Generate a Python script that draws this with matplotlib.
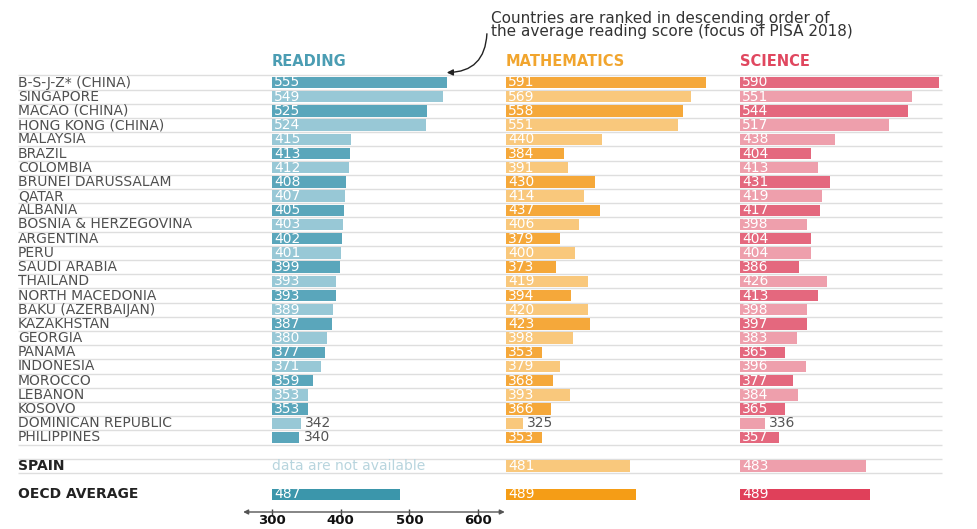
import matplotlib.pyplot as plt

# PISA 2018 scores
countries = ["B-S-J-Z* (CHINA)", "SINGAPORE", "MACAO (CHINA)", "HONG KONG (CHINA)",
             "MALAYSIA", "BRAZIL", "COLOMBIA", "BRUNEI DARUSSALAM", "QATAR", "ALBANIA",
             "BOSNIA & HERZEGOVINA", "ARGENTINA", "PERU", "SAUDI ARABIA", "THAILAND",
             "NORTH MACEDONIA", "BAKU (AZERBAIJAN)", "KAZAKHSTAN", "GEORGIA", "PANAMA",
             "INDONESIA", "MOROCCO", "LEBANON", "KOSOVO", "DOMINICAN REPUBLIC", "PHILIPPINES"]
reading = [555, 549, 525, 524, 415, 413, 412, 408, 407, 405, 403, 402, 401, 399, 393,
           393, 389, 387, 380, 377, 371, 359, 353, 353, 342, 340]
math = [591, 569, 558, 551, 440, 384, 391, 430, 414, 437, 406, 379, 400, 373, 419,
        394, 420, 423, 398, 353, 379, 368, 393, 366, 325, 353]
science = [590, 551, 544, 517, 438, 404, 413, 431, 419, 417, 398, 404, 404, 386, 426,
           413, 398, 397, 383, 365, 396, 377, 384, 365, 336, 357]
subjects = ["READING", "MATHEMATICS", "SCIENCE"]
spain = [None, 481, 483]
oecd = [487, 489, 489]
axis_ticks = [300, 400, 500, 600]

W, H = 978, 529
fig = plt.figure(figsize=(W / 100, H / 100), dpi=100)

# row layout (pixels from top)
row0 = 82.5
step = 14.2
ytop = -row0 / step
ybot = (H - row0) / step
spain_y = 27
oecd_y = 29

px_per_pt = 206 / 300.0
col_left = [272, 506, 740]
col_w = 228
dark = ["#5aa6bb", "#f5a83a", "#e4687e"]
light = ["#98c8d6", "#f9c87c", "#ee9fac"]
strong = ["#3b96ab", "#f59d16", "#e0405a"]
head_col = ["#4b9db3", "#f1a52e", "#e0475f"]

# background axes in pixel units for labels and separators
bg = fig.add_axes([0, 0, 1, 1])
bg.set_xlim(0, W)
bg.set_ylim(ybot, ytop)
bg.axis("off")

n = len(countries)
seps = [i - 0.5 for i in range(n + 1)] + [spain_y - 0.5, spain_y + 0.5]
bg.hlines(seps, 18, 942, color="#dedede", lw=1, zorder=0)
for i, c in enumerate(countries):
    bg.text(18, i, c, va="center", ha="left", fontsize=10, color="#505050")
bg.text(18, spain_y, "SPAIN", va="center", fontsize=10, color="#222222", fontweight="bold")
bg.text(18, oecd_y, "OECD AVERAGE", va="center", fontsize=10, color="#222222", fontweight="bold")

# annotation
fig.text(491 / W, 1 - 18 / H, "Countries are ranked in descending order of",
         fontsize=11, color="#333333", va="center")
fig.text(491 / W, 1 - 31.5 / H, "the average reading score (focus of PISA 2018)",
         fontsize=11, color="#333333", va="center")
bg.annotate("", xy=(444, -0.7), xytext=(487, (31 - row0) / step),
            arrowprops=dict(arrowstyle="-|>", color="#222222", lw=1,
                            connectionstyle="arc3,rad=-0.5", mutation_scale=9))

data = [reading, math, science]
for k in range(3):
    ax = fig.add_axes([col_left[k] / W, 0, col_w / W, 1])
    ax.set_xlim(300, 300 + col_w / px_per_pt)
    ax.set_ylim(ybot, ytop)
    ax.axis("off")
    ax.text(300, (62 - row0) / step, subjects[k], fontsize=10.5, fontweight="bold",
            color=head_col[k], va="center")
    vals = data[k]
    for i, v in enumerate(vals):
        is_dark = (i < 4 and i % 2 == 0) or (i >= 4 and i % 2 == 1)
        col = dark[k] if is_dark else light[k]
        ax.barh(i, v - 300, left=300, height=0.8, color=col)
        if v < 350:
            ax.text(v + 6, i, str(v), va="center", fontsize=10, color="#555555")
        else:
            ax.text(303, i, str(v), va="center", fontsize=10, color="white")
    if spain[k] is None:
        ax.text(300, spain_y, "data are not available", va="center", fontsize=10,
                color="#b8d5de")
    else:
        ax.barh(spain_y, spain[k] - 300, left=300, height=0.8, color=light[k])
        ax.text(303, spain_y, str(spain[k]), va="center", fontsize=10, color="white")
    ax.barh(oecd_y, oecd[k] - 300, left=300, height=0.8, color=strong[k])
    ax.text(303, oecd_y, str(oecd[k]), va="center", fontsize=10, color="white")

    if k == 0:
        ay = (512 - row0) / step
        ax.annotate("", xy=(258, ay), xytext=(639, ay), annotation_clip=False,
                    arrowprops=dict(arrowstyle="<|-|>", color="#555555", lw=1,
                                    mutation_scale=7, shrinkA=0, shrinkB=0))
        ax.vlines(axis_ticks, ay - 0.2, ay + 0.2, color="#444444", lw=1, clip_on=False)
        for t in axis_ticks:
            ax.text(t, (521 - row0) / step, str(t), ha="center", va="center",
                    fontsize=9.5, fontweight="bold", color="#111111", clip_on=False)

fig.savefig("out.png", dpi=100)
